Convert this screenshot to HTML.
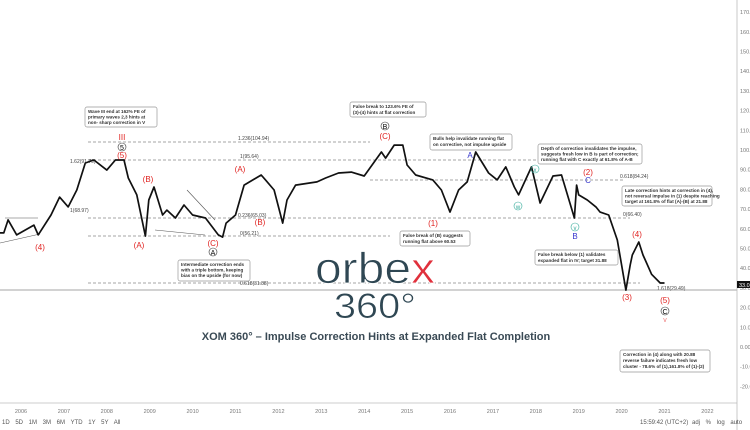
<!DOCTYPE html>
<html><head><meta charset="utf-8"><style>
html,body{margin:0;padding:0;background:#fff;}
body{width:750px;height:430px;overflow:hidden;font-family:"Liberation Sans",sans-serif;}
svg{display:block}
.ann{font-size:4.6px;font-weight:bold;fill:#333}
.box{fill:#fff;stroke:#999;stroke-width:0.7}
.fib{stroke:#888;stroke-width:0.7;stroke-dasharray:3,2}
.fl{font-size:5px;fill:#444}
.wr{font-size:8px;fill:#e0211f;text-anchor:middle}
.tk{font-size:5.5px;fill:#777}
</style></head><body>
<svg id="chart" width="750" height="430" viewBox="0 0 750 430">
<g id="grid">
<line class="fib" x1="88" y1="142" x2="370" y2="142"/><text class="fl" x="238" y="140">1.236(104.94)</text>
<line class="fib" x1="88" y1="160" x2="600" y2="160"/><text class="fl" x="240" y="158">1(95.64)</text>
<line class="fib" x1="370" y1="180" x2="625" y2="180"/><text class="fl" x="620" y="178">0.618(84.24)</text>
<line class="fib" x1="88" y1="218" x2="630" y2="218"/><text class="fl" x="238" y="217">0.236(65.03)</text><text class="fl" x="623" y="216">0(66.40)</text>
<line class="fib" x1="88" y1="236" x2="390" y2="236"/><text class="fl" x="240" y="235">0(56.21)</text>
<line class="fib" x1="88" y1="283" x2="640" y2="283"/><text class="fl" x="240" y="285">0.618(31.88)</text>
<text class="fl" x="70" y="163">1.62(91.79)</text><text class="fl" x="70" y="212">1(68.97)</text>
<text class="fl" x="657" y="290">1.618(29.49)</text>
<line x1="0" y1="290" x2="737" y2="290" stroke="#888" stroke-width="0.8"/>
<line x1="0" y1="243" x2="40" y2="234" stroke="#555" stroke-width="0.6"/>
<line x1="5" y1="218" x2="38" y2="218" stroke="#555" stroke-width="0.6"/>
<line x1="155" y1="230" x2="205" y2="235" stroke="#555" stroke-width="0.6"/>
<line x1="187" y1="190" x2="215" y2="220" stroke="#555" stroke-width="0.6"/>
</g>
<path id="price" fill="none" stroke="#111" stroke-width="1.7" stroke-linejoin="round"/>
<g>
<line x1="737" y1="0" x2="737" y2="430" stroke="#bbb" stroke-width="0.8"/>
<line x1="0" y1="403" x2="737" y2="403" stroke="#bbb" stroke-width="0.8"/>
<g id="yticks"></g><g id="xticks"></g>
<rect x="737" y="281" width="13" height="7" fill="#111"/><text x="739" y="287" font-size="5.5" fill="#fff">33.0</text>
</g>
<g>
<rect class="box" x="85" y="107" width="72" height="20" rx="2"/><text class="ann" x="88" y="113">Wave III end at 162% FE of</text><text class="ann" x="88" y="118.5">primary waves 2,3 hints at</text><text class="ann" x="88" y="124">non- sharp correction in V</text>
<rect class="box" x="350" y="102" width="76" height="15" rx="2"/><text class="ann" x="353" y="108">False break to 123.6% FE of</text><text class="ann" x="353" y="114">(3)-(4) hints at flat correction</text>
<rect class="box" x="430" y="134" width="82" height="16" rx="2"/><text class="ann" x="433" y="140">Bulls help invalidate running flat</text><text class="ann" x="433" y="146">on corrective, not impulse upside</text>
<rect class="box" x="538" y="144" width="104" height="20" rx="2"/><text class="ann" x="541" y="150">Depth of correction invalidates the impulse,</text><text class="ann" x="541" y="155.5">suggests fresh low in B is part of correction;</text><text class="ann" x="541" y="161">running flat with C exactly at 61.8% of A-B</text>
<rect class="box" x="622" y="186" width="90" height="20" rx="2"/><text class="ann" x="625" y="192">Late correction hints at correction in (4),</text><text class="ann" x="625" y="197.5">not reversal impulse in (1) despite reaching</text><text class="ann" x="625" y="203">target at 161.8% of flat (A)-(B) at 21.88</text>
<rect class="box" x="178" y="260" width="72" height="21" rx="2"/><text class="ann" x="181" y="266">Intermediate correction ends</text><text class="ann" x="181" y="271.5">with a triple bottom, keeping</text><text class="ann" x="181" y="277">bias on the upside (for now)</text>
<rect class="box" x="400" y="231" width="70" height="15" rx="2"/><text class="ann" x="403" y="237">False break of (B) suggests</text><text class="ann" x="403" y="243">running flat above 60.53</text>
<rect class="box" x="535" y="250" width="83" height="15" rx="2"/><text class="ann" x="538" y="256">False break below (1) validates</text><text class="ann" x="538" y="262">expanded flat in IV; target 31.88</text>
<rect class="box" x="620" y="350" width="90" height="22" rx="2"/><text class="ann" x="623" y="356">Correction in (4) along with 20.88</text><text class="ann" x="623" y="362">reverse failure indicates fresh low</text><text class="ann" x="623" y="368">cluster - 78.6% of (1),161.8% of (1)-(2)</text>
</g>
<g>
<text class="wr" x="40" y="250">(4)</text><text class="wr" x="122" y="158">(5)</text><text class="wr" x="122" y="140" fill="#e77">III</text>
<circle cx="122" cy="147" r="4" fill="none" stroke="#333" stroke-width="0.6"/><text x="122" y="150" font-size="7" text-anchor="middle">5</text>
<text class="wr" x="139" y="248">(A)</text><text class="wr" x="148" y="182">(B)</text><text class="wr" x="240" y="172">(A)</text><text class="wr" x="260" y="225">(B)</text><text class="wr" x="213" y="246">(C)</text>
<circle cx="213" cy="252" r="4" fill="none" stroke="#333" stroke-width="0.6"/><text x="213" y="255" font-size="7" text-anchor="middle">A</text>
<text class="wr" x="385" y="139">(C)</text><circle cx="385" cy="126" r="4" fill="none" stroke="#333" stroke-width="0.6"/><text x="385" y="129" font-size="7" text-anchor="middle">B</text>
<text class="wr" x="433" y="226">(1)</text><text x="470" y="158" font-size="8" fill="#33c" text-anchor="middle">A</text>
<circle cx="518" cy="206" r="4" fill="none" stroke="#3a9" stroke-width="0.6"/><text x="518" y="209" font-size="6" fill="#3a9" text-anchor="middle">w</text>
<circle cx="535" cy="169" r="4" fill="none" stroke="#3a9" stroke-width="0.6"/><text x="535" y="172" font-size="6" fill="#3a9" text-anchor="middle">x</text>
<text class="wr" x="588" y="175">(2)</text><text x="588" y="183" font-size="8" fill="#33c" text-anchor="middle">C</text>
<circle cx="575" cy="227" r="4" fill="none" stroke="#3a9" stroke-width="0.6"/><text x="575" y="230" font-size="6" fill="#3a9" text-anchor="middle">v</text>
<text x="575" y="239" font-size="8" fill="#33c" text-anchor="middle">B</text>
<text class="wr" x="637" y="237">(4)</text><text class="wr" x="627" y="300">(3)</text><text class="wr" x="665" y="303">(5)</text>
<circle cx="665" cy="311" r="4" fill="none" stroke="#333" stroke-width="0.6"/><text x="665" y="314" font-size="7" text-anchor="middle">C</text>
<text x="665" y="322" font-size="7" fill="#e77" text-anchor="middle">v</text>
</g>
<g>
<text x="315" y="283" font-size="44" fill="#2f4753" stroke="#fff" stroke-width="0.8" textLength="120" lengthAdjust="spacingAndGlyphs">orbe<tspan fill="#e0303c">x</tspan></text>
<text x="334" y="318" font-size="35" fill="#2f4753" stroke="#fff" stroke-width="0.6" textLength="82" lengthAdjust="spacingAndGlyphs">360°</text>
</g>
<text x="376" y="340" font-size="11" font-weight="bold" fill="#3a4a55" text-anchor="middle">XOM 360° – Impulse Correction Hints at Expanded Flat Completion</text>
<g>
<text x="2" y="424" font-size="6" fill="#555" word-spacing="4">1D 5D 1M 3M 6M YTD 1Y 5Y All</text>
<text x="640" y="424" font-size="6" fill="#555">15:59:42 (UTC+2)</text>
<text x="692" y="424" font-size="6" fill="#555" word-spacing="4">adj % log auto</text>
</g>
</svg>
<script>
const dates=[2005.5,2005.6,2005.7,2005.9,2006.3,2006.4,2006.7,2006.9,2007.1,2007.3,2007.5,2007.7,2008.0,2008.2,2008.4,2008.5,2008.7,2008.9,2008.98,2009.1,2009.3,2009.4,2009.6,2009.8,2010.0,2010.3,2010.6,2010.7,2010.78,2011.0,2011.2,2011.6,2011.7,2011.9,2012.1,2012.2,2012.4,2012.9,2013.1,2013.4,2013.7,2014.0,2014.4,2014.5,2014.7,2014.9,2015.0,2015.2,2015.6,2015.8,2016.0,2016.2,2016.4,2016.6,2016.9,2017.1,2017.3,2017.5,2017.6,2017.9,2018.1,2018.4,2018.6,2018.9,2018.95,2019.0,2019.2,2019.4,2019.5,2019.7,2019.9,2020.0,2020.1,2020.2,2020.25,2020.4,2020.5,2020.55,2020.7,2020.9,2021.0];
const prices=[57.9,57.9,64.5,56.9,61.9,56.9,67,76.1,71.1,79.7,93.4,94.9,89.8,94.9,94.9,85.8,77.2,56.3,74.6,81.2,67,69.5,65.5,72.1,67,65.5,56.9,55.8,62.9,67,82.2,87.3,84.8,79.7,62.9,74.6,82.2,83.8,85.8,88.3,88.8,86.8,99,95.9,102.5,102.5,92.4,87.3,84.8,79.7,68.5,79.7,83.8,99,88.3,84.8,91.4,81.2,77.2,91.4,73.1,86.8,87.3,65.5,82.2,77.2,74.6,71.1,68.5,67,54.3,41.6,28.9,41.6,46.7,53.3,46.7,44.2,36.9,32.5,32.5];
const yTicks=[170,160,150,140,130,120,110,100,90,80,70,60,50,40,30,20,10,0,-10,-20];
const years=[2006,2007,2008,2009,2010,2011,2012,2013,2014,2015,2016,2017,2018,2019,2020,2021,2022];
function xS(t){return 21+(t-2006)*42.9;}
function yS(p){return 347-p*1.97;}
const ns="http://www.w3.org/2000/svg";
let d="";
for(let i=0;i<dates.length;i++){d+=(i?"L":"M")+xS(dates[i]).toFixed(1)+","+yS(prices[i]).toFixed(1);}
document.getElementById("price").setAttribute("d",d);
const yg=document.getElementById("yticks");
yTicks.forEach(v=>{const t=document.createElementNS(ns,"text");


t.setAttribute("x",740);t.setAttribute("y",yS(v)+2);t.setAttribute("class","tk");
t.textContent=v===0?"0.00":v.toFixed(1);yg.appendChild(t);});
const xg=document.getElementById("xticks");
years.forEach(v=>{const t=document.createElementNS(ns,"text");


t.setAttribute("x",xS(v));t.setAttribute("y",413);t.setAttribute("class","tk");t.setAttribute("text-anchor","middle");
t.textContent=v;xg.appendChild(t);});
</script>
</body></html>
